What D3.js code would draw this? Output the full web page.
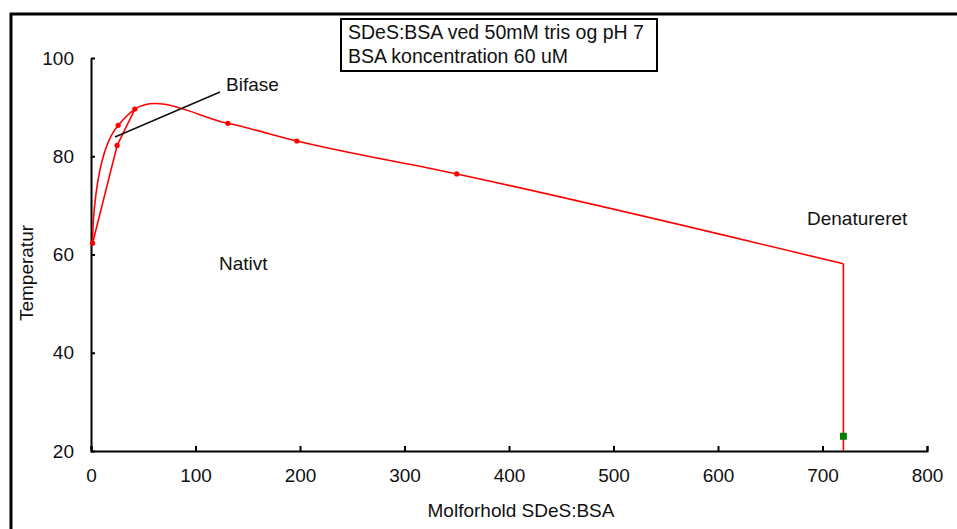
<!DOCTYPE html>
<html>
<head>
<meta charset="utf-8">
<script src="https://cdn.jsdelivr.net/npm/d3@7"></script>
<style>
  body { margin: 0; background: #fff; }
  text { font-family: "Liberation Sans", Arial, sans-serif; fill: #111; }
</style>
</head>
<body>
<div id="chart"></div>
<script>
const width = 957;
const height = 529;

// upper phase boundary (with markers on all but last point)
const upperX = [1.5, 26, 42, 131, 197, 350, 720];
const upperT = [62.3, 86.3, 89.6, 86.7, 83.1, 76.4, 58.1];
// lower branch of the biphasic loop
const lowerX = [1.5, 25, 42];
const lowerT = [62.3, 82.2, 89.6];
// drop at denaturation
const dropX = [720, 720];
const dropT = [58.1, 20];
// single green point
const greenX = [720];
const greenT = [23];

const xTicks = [0, 100, 200, 300, 400, 500, 600, 700, 800];
const yTicks = [20, 40, 60, 80, 100];
const titleLines = ["SDeS:BSA ved 50mM tris og pH 7", "BSA koncentration 60 uM"];

const svg = d3.select("#chart")
  .append("svg")
  .attr("width", width)
  .attr("height", height);

// outer frame (cut off at right and bottom)
svg.append("rect")
  .attr("x", 11).attr("y", 14)
  .attr("width", 960).attr("height", 540)
  .attr("fill", "#fff")
  .attr("stroke", "#000")
  .attr("stroke-width", 3);

const x = d3.scaleLinear().domain([0, 800]).range([91, 927]);
const y = d3.scaleLinear().domain([20, 100]).range([451, 58]);

const xAxis = svg.append("g")
  .attr("transform", `translate(0,${y(20)})`)
  .call(d3.axisBottom(x).tickValues(xTicks).tickSizeInner(-5).tickSizeOuter(-5).tickPadding(18));

const yAxis = svg.append("g")
  .attr("transform", `translate(${x(0)},0)`)
  .call(d3.axisLeft(y).tickValues(yTicks).tickSizeInner(-4).tickSizeOuter(0).tickPadding(17));

[xAxis, yAxis].forEach(a => {
  a.select(".domain").attr("stroke", "#000").attr("stroke-width", 2);
  a.selectAll(".tick line").attr("stroke", "#000").attr("stroke-width", 2);
  a.selectAll(".tick text")
    .attr("font-size", "19px")
    .attr("font-family", "Liberation Sans, Arial, sans-serif")
    .attr("fill", "#111");
});

// axis titles
svg.append("text")
  .attr("x", 521).attr("y", 517)
  .attr("text-anchor", "middle")
  .attr("font-size", "19px")
  .text("Molforhold SDeS:BSA");

svg.append("text")
  .attr("transform", "translate(33,273) rotate(-90)")
  .attr("text-anchor", "middle")
  .attr("font-size", "19px")
  .text("Temperatur");

// lines (chordal spline gives the overshoot seen after the loop)
const smooth = d3.line()
  .x(d => x(d[0]))
  .y(d => y(d[1]))
  .curve(d3.curveCatmullRom.alpha(1));

const straight = d3.line()
  .x(d => x(d[0]))
  .y(d => y(d[1]));

const upper = upperX.map((v, i) => [v, upperT[i]]);
const lower = lowerX.map((v, i) => [v, lowerT[i]]);
const drop = dropX.map((v, i) => [v, dropT[i]]);

[[upper, smooth], [lower, straight], [drop, straight]].forEach(([data, gen]) => {
  svg.append("path")
    .datum(data)
    .attr("d", gen)
    .attr("fill", "none")
    .attr("stroke", "#ff0000")
    .attr("stroke-width", 1.6);
});

const markers = upper.slice(0, 6).concat(lower.slice(1, 2));
svg.selectAll("circle.pt")
  .data(markers)
  .enter()
  .append("circle")
  .attr("class", "pt")
  .attr("cx", d => x(d[0]))
  .attr("cy", d => y(d[1]))
  .attr("r", 2.6)
  .attr("fill", "#ff0000");

svg.selectAll("rect.green")
  .data(greenX.map((v, i) => [v, greenT[i]]))
  .enter()
  .append("rect")
  .attr("class", "green")
  .attr("x", d => x(d[0]) - 3.5)
  .attr("y", d => y(d[1]) - 3.5)
  .attr("width", 7)
  .attr("height", 7)
  .attr("fill", "#008000");

// annotations
svg.append("line")
  .attr("x1", 115).attr("y1", 137)
  .attr("x2", 220).attr("y2", 92)
  .attr("stroke", "#111")
  .attr("stroke-width", 1.5);

svg.append("text").attr("x", 226).attr("y", 91).attr("font-size", "19px").text("Bifase");
svg.append("text").attr("x", 219).attr("y", 270).attr("font-size", "19px").text("Nativt");
svg.append("text").attr("x", 807).attr("y", 225).attr("font-size", "19px").text("Denatureret");

// title box
svg.append("rect")
  .attr("x", 341).attr("y", 19)
  .attr("width", 316).attr("height", 52)
  .attr("fill", "#fff")
  .attr("stroke", "#000")
  .attr("stroke-width", 2);

svg.selectAll("text.title")
  .data(titleLines)
  .enter()
  .append("text")
  .attr("class", "title")
  .attr("x", 348)
  .attr("y", (d, i) => 39 + i * 24)
  .attr("font-size", "19.5px")
  .text(d => d);
</script>
</body>
</html>
